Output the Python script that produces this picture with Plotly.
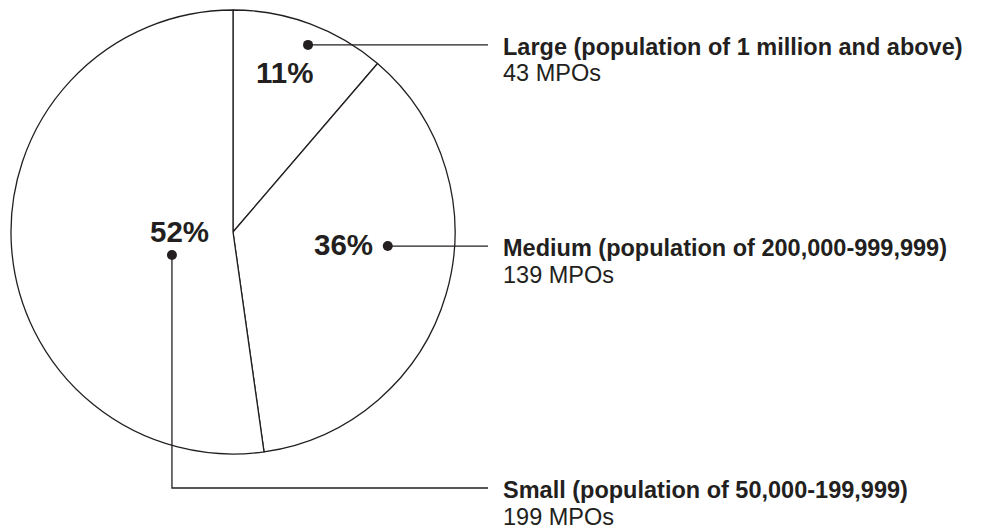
import math
import plotly.graph_objects as go

# ---- data ----
categories = ["Large", "Medium", "Small"]
descriptions = [
    "Large (population of 1 million and above)",
    "Medium (population of 200,000-999,999)",
    "Small (population of 50,000-199,999)",
]
mpo_counts = [43, 139, 199]

# ---- layout / style constants (pixels) ----
W, H = 985, 529
CX, CY, R = 233, 232, 222
INK = "#231f20"
FONT = "Liberation Sans, Arial, Helvetica, sans-serif"
PCT_SIZE = 29.5
LBL_SIZE = 23.5
# polar placements (degrees clockwise from 12 o'clock, fraction of radius)
pct_polar = [(18.0, 0.757), (96.7, 0.50), (270.0, 0.239)]
dot_polar = [(21.85, 0.908), (95.2, 0.70), (249.3, 0.294)]
row_y = [None, None, 488]      # None -> row at dot height, else elbow down to this row
line_end_x = 488
text_x = 502
title_offset = 2
row_gap = 26.5
dot_r = 5


def px(x):
    return x / W


def py(y):
    return 1 - y / H


def polar(theta, frac):
    t = math.radians(theta)
    return CX + frac * R * math.sin(t), CY - frac * R * math.cos(t)


total = sum(mpo_counts)
pcts = [round(v / total * 100) for v in mpo_counts]

fig = go.Figure(go.Pie(
    labels=categories,
    values=mpo_counts,
    sort=False,
    direction="clockwise",
    rotation=0,
    textinfo="none",
    hoverinfo="skip",
    showlegend=False,
    marker=dict(colors=["white"] * 3, line=dict(color=INK, width=1.3)),
    domain=dict(x=[px(CX - R), px(CX + R)], y=[py(CY + R), py(CY - R)]),
))

shapes = []
annotations = []
for i, cat in enumerate(categories):
    lx, ly = polar(*pct_polar[i])
    annotations.append(dict(
        x=px(lx), y=py(ly), xref="paper", yref="paper", showarrow=False,
        text=f"<b>{pcts[i]}%</b>", font=dict(family=FONT, size=PCT_SIZE, color=INK),
        xanchor="center", yanchor="middle"))
    dx, dy = polar(*dot_polar[i])
    ry = dy if row_y[i] is None else row_y[i]
    if row_y[i] is None:
        path = f"M {px(dx)} {py(dy)} L {px(line_end_x)} {py(ry)}"
    else:
        path = f"M {px(dx)} {py(dy)} L {px(dx)} {py(ry)} L {px(line_end_x)} {py(ry)}"
    shapes.append(dict(type="path", xref="paper", yref="paper", path=path,
                       line=dict(color=INK, width=1.3)))
    shapes.append(dict(type="circle", xref="paper", yref="paper",
                       x0=px(dx - dot_r), x1=px(dx + dot_r),
                       y0=py(dy + dot_r), y1=py(dy - dot_r),
                       fillcolor=INK, line=dict(color=INK, width=0)))
    annotations.append(dict(
        x=px(text_x), y=py(ry + title_offset), xref="paper", yref="paper", showarrow=False,
        text=f"<b>{descriptions[i]}</b>", font=dict(family=FONT, size=LBL_SIZE, color=INK),
        xanchor="left", yanchor="middle", borderpad=0))
    annotations.append(dict(
        x=px(text_x), y=py(ry + title_offset + row_gap), xref="paper", yref="paper",
        showarrow=False,
        text=f"{mpo_counts[i]} MPOs", font=dict(family=FONT, size=LBL_SIZE, color=INK),
        xanchor="left", yanchor="middle", borderpad=0))

fig.update_layout(
    width=W, height=H,
    margin=dict(l=0, r=0, t=0, b=0),
    paper_bgcolor="white", plot_bgcolor="white",
    shapes=shapes, annotations=annotations,
)

fig.write_html("out.html")
